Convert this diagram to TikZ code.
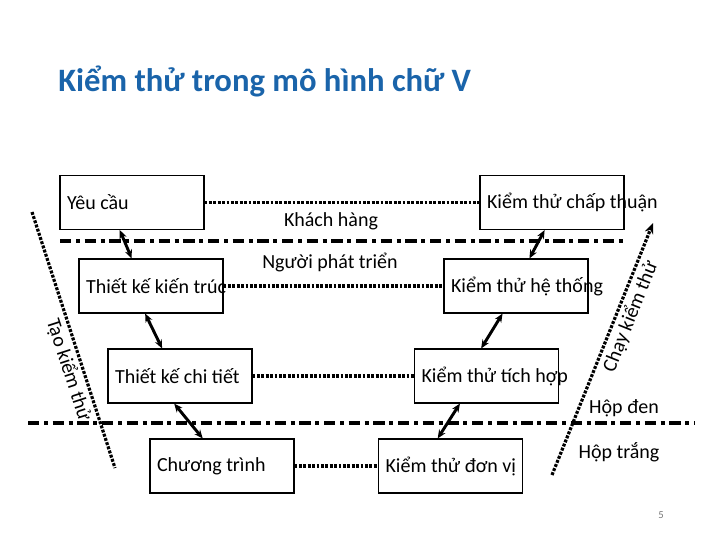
\documentclass[tikz,border=0pt]{standalone}
\usepackage{fontspec}
\setmainfont{Carlito}
\usepackage{tikz}
\usetikzlibrary{arrows.meta}
\definecolor{vblue}{RGB}{26,100,170}
\definecolor{vgray}{RGB}{120,120,120}
\tikzstyle{twoway} = [line width=2.2pt, {Stealth[length=6.5pt,width=5.5pt]}-{Stealth[length=6.5pt,width=5.5pt]}]
\tikzstyle{link} = [line width=2.4pt, dash pattern=on 2.2pt off 1.1pt]
\tikzstyle{border} = [line width=2.6pt, dash pattern=on 8.5pt off 3.5pt on 3pt off 3.5pt]
\tikzstyle{tag} = [font=\fontsize{15}{18}\selectfont, inner sep=1pt]
\tikzset{phase/.style={rectangle, draw, line width=0.8pt, minimum width=108pt, minimum height=40.5pt,
  label={[tag, anchor=west, inner sep=5.5pt]west:#1}}}

\begin{document}
\begin{tikzpicture}[x=0.75pt, y=-0.75pt]
\useasboundingbox (0,0) rectangle (720,540);
% Title
\node[anchor=base west, inner sep=0pt, font=\fontsize{24.5}{29}\selectfont\bfseries, text=vblue] (title) at (58,91) {Kiểm thử trong mô hình chữ V};

% Design side
\node (yc) [phase=Yêu cầu] at (132,202.5) {};
\node (tkkt) [phase=Thiết kế kiến trúc] at (151,286) {};
\node (tkct) [phase=Thiết kế chi tiết] at (180,376) {};
\node (ct) [phase=Chương trình] at (222,466) {};

% Test side
\node (ktct) [phase=Kiểm thử chấp thuận] at (552,202.5) {};
\node (kths) [phase=Kiểm thử hệ thống] at (516,286) {};
\node (ktth) [phase=Kiểm thử tích hợp] at (486.5,376) {};
\node (ktdv) [phase=Kiểm thử đơn vị] at (450.5,466) {};

% Links between the two sides
\draw[link] (yc.east) -- (ktct.west);
\draw[link] (tkkt.east) -- (kths.west);
\draw[link] (tkct.east) -- (ktth.west);
\draw[link] (ct.east) -- (ktdv.west);

% Steps down and up the V
\draw[twoway] (yc.-114) -- (tkkt.125);
\draw[twoway] (tkkt.-102) -- (tkct.123);
\draw[twoway] (tkct.-102) -- (ct.125);
\draw[twoway] (ktdv.115) -- (ktth.-134);
\draw[twoway] (ktth.101) -- (kths.-116);
\draw[twoway] (kths.64) -- (ktct.-105);

% Separators
\coordinate (s1a) at (60,241);
\coordinate (s1b) at (623,241);
\coordinate (s2a) at (28,423);
\coordinate (s2b) at (695,423);
\draw[border] (s1a) -- (s1b);
\draw[border] (s2a) -- (s2b);
\node[tag] (kh) at (331,221) {Khách hàng};
\node[tag] (ngpt) at (330,262) {Người phát triển};
\node[tag] (hden) at (624,408) {Hộp đen};
\node[tag] (htrang) at (619,452) {Hộp trắng};

% Test creation and running
\coordinate (mk1) at (32,212);
\coordinate (mk2) at (115,468);
\coordinate (run1) at (552,475);
\coordinate (run2) at (653,223);
\draw[link] (mk1) -- node[tag, pos=0.6, below=1pt, sloped] {Tạo kiểm thử} (mk2);
\draw[link, -{Stealth[length=8pt,width=6.5pt]}] (run1) -- node[tag, pos=0.65, below=1pt, sloped] {Chạy kiểm thử} (run2);

\node[font=\fontsize{8}{10}\selectfont, text=vgray] (pg) at (661,515) {5};
\end{tikzpicture}
\end{document}
